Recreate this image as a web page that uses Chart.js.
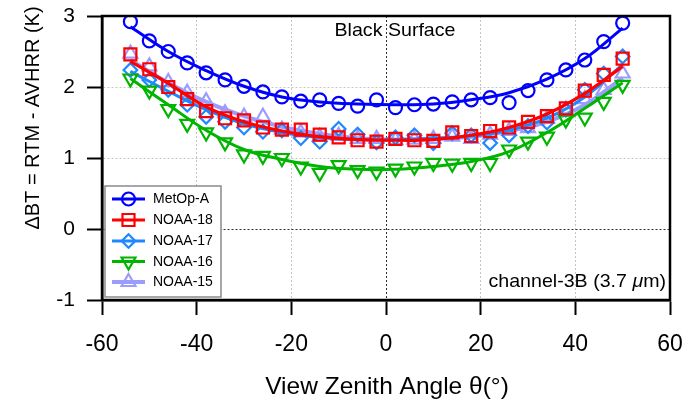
<!DOCTYPE html>
<html>
<head>
<meta charset="utf-8">
<script src="https://cdn.jsdelivr.net/npm/chart.js@4.4.1/dist/chart.umd.min.js"></script>
<style>
  html, body { margin: 0; padding: 0; background: #ffffff; }
  #wrap { width: 686px; height: 403px; position: relative; }
</style>
</head>
<body>
<div id="wrap"><canvas id="c" width="686" height="403"></canvas></div>
<script>
// ---- Data ----
const angles = [-54,-50,-46,-42,-38,-34,-30,-26,-22,-18,-14,-10,-6,-2,2,6,10,14,18,22,26,30,34,38,42,46,50];
const metopA = [2.92,2.65,2.50,2.34,2.20,2.10,2.01,1.93,1.86,1.80,1.82,1.77,1.73,1.82,1.71,1.75,1.76,1.79,1.82,1.85,1.78,1.95,2.10,2.24,2.38,2.64,2.90];
const noaa18 = [2.46,2.25,2.00,1.83,1.66,1.56,1.53,1.43,1.40,1.40,1.33,1.29,1.25,1.23,1.27,1.25,1.24,1.36,1.31,1.38,1.43,1.51,1.59,1.70,1.95,2.17,2.40];
const noaa17 = [2.24,2.10,1.96,1.75,1.58,1.51,1.43,1.37,1.39,1.28,1.23,1.41,1.33,1.22,1.29,1.32,1.21,1.35,1.32,1.21,1.32,1.45,1.50,1.68,1.96,2.19,2.43];
const noaa16 = [2.12,1.95,1.69,1.48,1.36,1.22,1.05,1.03,1.00,0.88,0.79,0.90,0.83,0.81,0.85,0.88,0.93,0.92,0.93,0.93,1.12,1.23,1.30,1.54,1.57,1.79,2.03];
const noaa15 = [2.47,2.29,2.07,1.92,1.80,1.63,1.58,1.58,1.40,1.36,1.30,1.31,1.27,1.27,1.25,1.26,1.27,1.30,1.27,1.33,1.38,1.42,1.55,1.68,1.83,1.96,2.19];

// fitted curves, read at every 8 degrees
const fitAngles = [-54,-46,-38,-30,-22,-14,-6,2,10,18,26,34,42,50];
const metopAFit = [2.85,2.50,2.23,2.01,1.86,1.79,1.76,1.75,1.76,1.82,1.92,2.11,2.40,2.83];
const noaa18Fit = [2.36,2.05,1.72,1.51,1.38,1.30,1.26,1.25,1.26,1.32,1.43,1.62,1.91,2.29];
const noaa17Fit = [2.22,1.94,1.68,1.48,1.36,1.29,1.26,1.26,1.28,1.31,1.39,1.56,1.86,2.32];
const noaa16Fit = [2.12,1.75,1.39,1.12,0.98,0.88,0.84,0.84,0.88,0.95,1.09,1.36,1.70,2.06];
const noaa15Fit = [2.38,2.06,1.79,1.59,1.44,1.34,1.28,1.26,1.27,1.30,1.38,1.51,1.75,2.13];

const seriesNames = ['MetOp-A','NOAA-18','NOAA-17','NOAA-16','NOAA-15'];
const xTicks = [-60,-40,-20,0,20,40,60];
const yTicks = [-1,0,1,2,3];

const FONT = '"Liberation Sans", Arial, Helvetica, sans-serif';
const colors = {
  'MetOp-A': '#0000ff',
  'NOAA-18': '#ff0000',
  'NOAA-17': '#1e88ff',
  'NOAA-16': '#00b400',
  'NOAA-15': '#9c9cff'
};
const markers = {
  'MetOp-A': {style: 'circle', r: 6.5, rot: 0},
  'NOAA-18': {style: 'rect', r: 8.5, rot: 0},
  'NOAA-17': {style: 'rectRot', r: 6.8, rot: 0},
  'NOAA-16': {style: 'triangle', r: 8, rot: 180},
  'NOAA-15': {style: 'triangle', r: 8, rot: 0}
};

function pts(xs, ys) { return xs.map((x, i) => ({x: x, y: ys[i]})); }

function markerSet(name, vals) {
  const m = markers[name];
  return {
    label: name,
    data: pts(angles, vals),
    showLine: false,
    borderColor: colors[name],
    backgroundColor: 'rgba(0,0,0,0)',
    pointStyle: m.style,
    pointRadius: m.r,
    pointRotation: m.rot,
    pointBorderWidth: 2.2,
    pointBorderColor: colors[name],
    pointBackgroundColor: 'rgba(0,0,0,0)',
    pointHoverRadius: m.r
  };
}
function fitSet(name, vals, w) {
  return {
    label: name + ' fit',
    data: pts(fitAngles, vals),
    showLine: true,
    borderColor: colors[name],
    borderWidth: w,
    pointRadius: 0,
    tension: 0.4,
    fill: false
  };
}

// first dataset is drawn on top
const datasets = [
  markerSet('MetOp-A', metopA), fitSet('MetOp-A', metopAFit, 3),
  markerSet('NOAA-18', noaa18), fitSet('NOAA-18', noaa18Fit, 3.2),
  markerSet('NOAA-16', noaa16), fitSet('NOAA-16', noaa16Fit, 3),
  markerSet('NOAA-17', noaa17), fitSet('NOAA-17', noaa17Fit, 3),
  markerSet('NOAA-15', noaa15), fitSet('NOAA-15', noaa15Fit, 4)
];

function stretchText(ctx, txt, x, y, size, align, sx, rot) {
  ctx.save();
  ctx.font = size + 'px ' + FONT;
  ctx.fillStyle = '#000';
  ctx.textBaseline = 'middle';
  ctx.textAlign = align;
  ctx.translate(x, y);
  if (rot) ctx.rotate(rot);
  ctx.scale(sx, 1);
  ctx.fillText(txt, 0, 0);
  ctx.restore();
}

function drawMarker(ctx, name, x, y) {
  const m = markers[name];
  ctx.save();
  ctx.strokeStyle = colors[name];
  ctx.lineWidth = 2.2;
  ctx.beginPath();
  if (m.style === 'circle') {
    ctx.arc(x, y, m.r, 0, Math.PI * 2);
  } else if (m.style === 'rect') {
    const s = m.r * Math.SQRT1_2;
    ctx.rect(x - s, y - s, 2 * s, 2 * s);
  } else if (m.style === 'rectRot') {
    ctx.moveTo(x - m.r, y); ctx.lineTo(x, y - m.r); ctx.lineTo(x + m.r, y); ctx.lineTo(x, y + m.r); ctx.closePath();
  } else if (m.style === 'triangle') {
    let rad = m.rot * Math.PI / 180;
    for (let k = 0; k < 3; k++) {
      const px = x + Math.sin(rad) * m.r, py = y - Math.cos(rad) * m.r;
      if (k === 0) ctx.moveTo(px, py); else ctx.lineTo(px, py);
      rad += 2 * Math.PI / 3;
    }
    ctx.closePath();
  }
  ctx.stroke();
  ctx.restore();
}

const decorPlugin = {
  id: 'decor',
  afterDatasetsDraw(chart) {
    const ctx = chart.ctx;
    const a = chart.chartArea;
    // frame
    ctx.save();
    ctx.strokeStyle = '#000';
    ctx.lineWidth = 2.5;
    ctx.strokeRect(a.left, a.top, a.right - a.left, a.bottom - a.top);
    ctx.restore();

    // legend
    ctx.save();
    ctx.fillStyle = '#fff';
    ctx.strokeStyle = '#8a8a8a';
    ctx.lineWidth = 1.5;
    ctx.fillRect(105, 186, 116, 111);
    ctx.strokeRect(105, 186, 116, 111);
    ctx.restore();
    const rows = [199, 220, 241, 261.5, 282];
    seriesNames.forEach((n, i) => {
      const y = rows[i];
      ctx.save();
      ctx.strokeStyle = colors[n];
      ctx.lineWidth = n === 'NOAA-15' ? 4 : 3;
      ctx.beginPath(); ctx.moveTo(112, y); ctx.lineTo(145, y); ctx.stroke();
      ctx.restore();
      drawMarker(ctx, n, 128.5, y);
      stretchText(ctx, n, 153, y + 0.5, 14, 'left', 1.0);
    });

    // annotations
    stretchText(ctx, 'Black Surface', 395, 31, 18.5, 'center', 1.06);
    // channel text with italic mu, right aligned at 666
    ctx.save();
    const size = 18.5, sx = 1.06;
    const parts = [['channel-3B (3.7 ', ''], ['\u03bc', 'italic '], ['m)', '']];
    let total = 0;
    parts.forEach(p => { ctx.font = p[1] + size + 'px ' + FONT; total += ctx.measureText(p[0]).width; });
    ctx.translate(666 - total * sx, 282);
    ctx.scale(sx, 1);
    ctx.fillStyle = '#000';
    ctx.textBaseline = 'middle';
    ctx.textAlign = 'left';
    let xx = 0;
    parts.forEach(p => { ctx.font = p[1] + size + 'px ' + FONT; ctx.fillText(p[0], xx, 0); xx += ctx.measureText(p[0]).width; });
    ctx.restore();

    // axis titles
    stretchText(ctx, '\u0394BT = RTM - AVHRR (K)', 33, 118, 20, 'center', 1.0, -Math.PI / 2);
    stretchText(ctx, 'View Zenith Angle \u03b8(\u00b0)', 387, 387, 24.5, 'center', 1.0);
  }
};

const gridColor = (c) => (c.tick && c.tick.value === 0) ? '#303030' : ((c.tick && (c.tick.value === -60 || c.tick.value === 60 || c.tick.value === -1 || c.tick.value === 3)) ? 'rgba(0,0,0,0)' : '#c4c4c4');

function zeroPad(s) { s.paddingLeft = 0; s.paddingRight = 0; s.paddingTop = 0; s.paddingBottom = 0; }

new Chart(document.getElementById('c'), {
  type: 'scatter',
  data: { datasets: datasets },
  options: {
    responsive: false,
    animation: false,
    devicePixelRatio: 1,
    layout: { padding: { left: 0, top: 16, right: 16, bottom: 0 } },
    plugins: { legend: { display: false }, tooltip: { enabled: false } },
    scales: {
      x: {
        type: 'linear',
        min: xTicks[0], max: xTicks[xTicks.length - 1],
        afterBuildTicks: (s) => { s.ticks = xTicks.map(v => ({value: v})); },
        afterFit: (s) => { s.height = 103; zeroPad(s); },
        ticks: { color: '#000', font: { family: FONT, size: 23 }, padding: 16, maxRotation: 0, autoSkip: false },
        grid: { color: gridColor, lineWidth: 1, tickColor: '#000', tickWidth: 2, tickLength: 15, drawTicks: true },
        border: { display: true, color: '#000', width: 2.5, dash: [2, 2] }
      },
      y: {
        type: 'linear',
        min: yTicks[0], max: yTicks[yTicks.length - 1],
        afterBuildTicks: (s) => { s.ticks = yTicks.map(v => ({value: v})); },
        afterFit: (s) => { s.width = 102; zeroPad(s); },
        ticks: { color: '#000', font: { family: FONT, size: 21 }, padding: 12, autoSkip: false },
        grid: { color: gridColor, lineWidth: 1, tickColor: '#000', tickWidth: 2, tickLength: 15, drawTicks: true },
        border: { display: true, color: '#000', width: 2.5, dash: [2, 2] }
      }
    }
  },
  plugins: [decorPlugin]
});
</script>
</body>
</html>
